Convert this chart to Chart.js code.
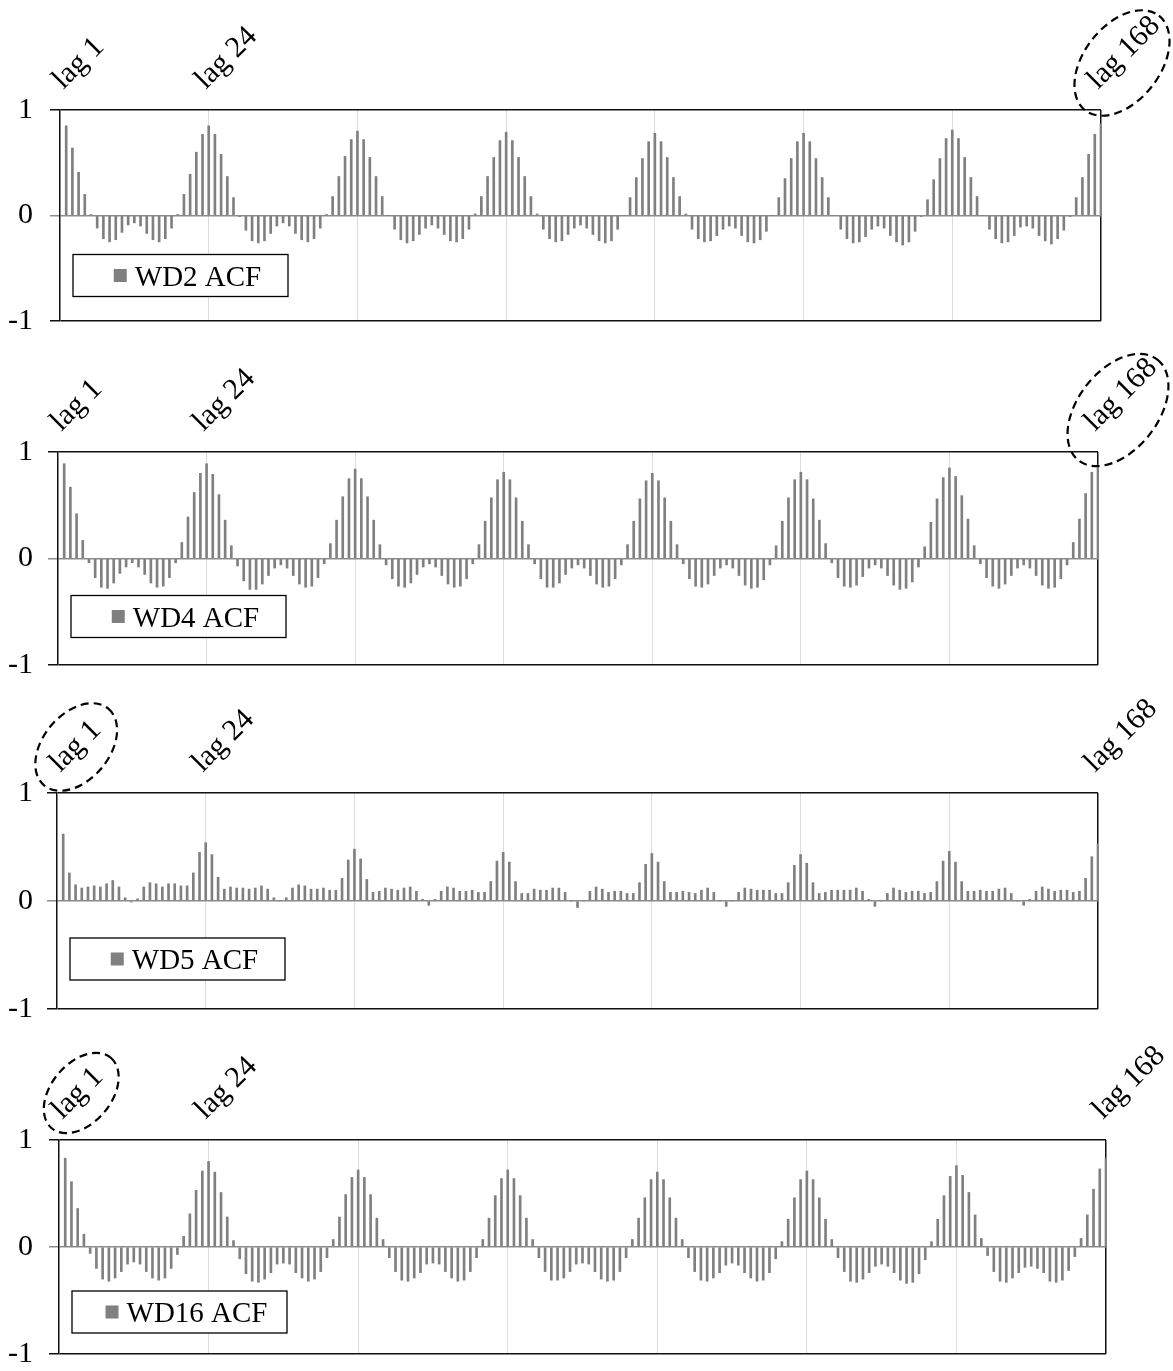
<!DOCTYPE html>
<html>
<head>
<meta charset="utf-8">
<script src="https://cdn.jsdelivr.net/npm/chart.js@4.4.1/dist/chart.umd.min.js"></script>
<style>
  html, body { margin: 0; padding: 0; background: #fff; overflow: hidden; }
  body { width: 1173px; height: 1371px; position: relative; }
  .panel { position: absolute; left: 0; width: 1173px; }
</style>
</head>
<body>
<div class="panel" id="p1"><canvas id="c1"></canvas></div>
<div class="panel" id="p2"><canvas id="c2"></canvas></div>
<div class="panel" id="p3"><canvas id="c3"></canvas></div>
<div class="panel" id="p4"><canvas id="c4"></canvas></div>
<script>
// lags 1..168 (one week of hourly lags)
const lags = [];
for (let i = 1; i <= 168; i++) lags.push(i);
const markedLags = [1, 24, 168];
const yTicks = [-1, 0, 1];
const seriesNames = ["WD2 ACF", "WD4 ACF", "WD5 ACF", "WD16 ACF"];

// ACF values, one row per day (24 lags)
const wd2Acf = [
  0.85, 0.64, 0.41, 0.20, 0.01, -0.12, -0.22, -0.25, -0.23, -0.16, -0.09, -0.07, -0.10, -0.17, -0.23, -0.25, -0.22, -0.12, 0.01, 0.20, 0.39, 0.60, 0.77, 0.85,
  0.77, 0.58, 0.37, 0.17, -0.01, -0.14, -0.24, -0.26, -0.24, -0.17, -0.10, -0.07, -0.10, -0.17, -0.23, -0.25, -0.22, -0.12, 0.01, 0.18, 0.37, 0.56, 0.72, 0.80,
  0.72, 0.55, 0.37, 0.18, 0.00, -0.13, -0.23, -0.26, -0.24, -0.18, -0.12, -0.09, -0.12, -0.18, -0.24, -0.25, -0.22, -0.13, 0.015, 0.18, 0.37, 0.55, 0.71, 0.79,
  0.71, 0.55, 0.37, 0.18, 0.015, -0.13, -0.22, -0.25, -0.24, -0.18, -0.12, -0.09, -0.12, -0.18, -0.24, -0.26, -0.24, -0.13, 0.00, 0.17, 0.36, 0.54, 0.70, 0.78,
  0.70, 0.55, 0.36, 0.18, 0.015, -0.13, -0.22, -0.25, -0.24, -0.19, -0.13, -0.10, -0.12, -0.19, -0.25, -0.26, -0.23, -0.15, 0.00, 0.17, 0.35, 0.54, 0.70, 0.78,
  0.70, 0.54, 0.36, 0.17, 0.00, -0.13, -0.22, -0.26, -0.25, -0.20, -0.13, -0.10, -0.12, -0.19, -0.25, -0.28, -0.25, -0.15, -0.01, 0.15, 0.34, 0.54, 0.73, 0.81,
  0.73, 0.55, 0.36, 0.18, 0.00, -0.13, -0.22, -0.26, -0.25, -0.19, -0.11, -0.10, -0.12, -0.19, -0.24, -0.27, -0.22, -0.14, -0.01, 0.17, 0.36, 0.58, 0.77, 0.87
];
const wd4Acf = [
  0.89, 0.67, 0.42, 0.17, -0.04, -0.18, -0.27, -0.28, -0.23, -0.14, -0.08, -0.04, -0.08, -0.15, -0.23, -0.27, -0.26, -0.18, -0.04, 0.15, 0.39, 0.62, 0.80, 0.89,
  0.79, 0.60, 0.36, 0.12, -0.07, -0.21, -0.29, -0.29, -0.24, -0.16, -0.09, -0.06, -0.09, -0.16, -0.24, -0.27, -0.26, -0.18, -0.05, 0.14, 0.36, 0.58, 0.75, 0.84,
  0.75, 0.58, 0.36, 0.13, -0.06, -0.19, -0.26, -0.27, -0.23, -0.15, -0.08, -0.05, -0.08, -0.16, -0.24, -0.27, -0.26, -0.19, -0.05, 0.13, 0.35, 0.57, 0.74, 0.81,
  0.74, 0.57, 0.35, 0.13, -0.05, -0.19, -0.27, -0.27, -0.23, -0.15, -0.09, -0.06, -0.09, -0.16, -0.24, -0.27, -0.26, -0.19, -0.06, 0.13, 0.35, 0.56, 0.73, 0.80,
  0.73, 0.57, 0.35, 0.13, -0.05, -0.19, -0.26, -0.27, -0.24, -0.16, -0.09, -0.06, -0.09, -0.16, -0.25, -0.28, -0.27, -0.20, -0.06, 0.12, 0.35, 0.57, 0.74, 0.81,
  0.74, 0.56, 0.36, 0.14, -0.04, -0.18, -0.26, -0.27, -0.25, -0.17, -0.09, -0.06, -0.09, -0.16, -0.25, -0.29, -0.28, -0.22, -0.08, 0.11, 0.34, 0.56, 0.76, 0.85,
  0.77, 0.59, 0.37, 0.12, -0.05, -0.18, -0.26, -0.28, -0.24, -0.16, -0.09, -0.06, -0.09, -0.16, -0.25, -0.28, -0.27, -0.19, -0.06, 0.15, 0.37, 0.61, 0.81, 0.88
];
const wd5Acf = [
  0.62, 0.26, 0.15, 0.12, 0.13, 0.14, 0.13, 0.16, 0.19, 0.13, 0.03, -0.01, 0.02, 0.13, 0.17, 0.16, 0.13, 0.16, 0.16, 0.14, 0.14, 0.26, 0.45, 0.54,
  0.43, 0.22, 0.11, 0.13, 0.12, 0.12, 0.11, 0.12, 0.14, 0.11, 0.03, 0.00, 0.03, 0.12, 0.15, 0.14, 0.11, 0.11, 0.12, 0.10, 0.10, 0.21, 0.38, 0.48,
  0.39, 0.20, 0.08, 0.09, 0.12, 0.11, 0.10, 0.12, 0.13, 0.09, 0.015, -0.04, 0.015, 0.09, 0.13, 0.12, 0.09, 0.09, 0.10, 0.08, 0.08, 0.18, 0.37, 0.45,
  0.36, 0.18, 0.07, 0.07, 0.11, 0.10, 0.10, 0.12, 0.12, 0.08, 0.00, -0.06, 0.00, 0.09, 0.13, 0.11, 0.08, 0.09, 0.09, 0.07, 0.07, 0.17, 0.34, 0.44,
  0.36, 0.18, 0.08, 0.08, 0.09, 0.08, 0.07, 0.10, 0.12, 0.08, 0.00, -0.05, 0.00, 0.08, 0.12, 0.11, 0.10, 0.10, 0.10, 0.07, 0.07, 0.17, 0.33, 0.43,
  0.35, 0.17, 0.07, 0.08, 0.10, 0.10, 0.10, 0.10, 0.12, 0.09, 0.015, -0.05, 0.00, 0.07, 0.12, 0.10, 0.08, 0.09, 0.09, 0.07, 0.08, 0.18, 0.37, 0.46,
  0.36, 0.18, 0.09, 0.09, 0.10, 0.09, 0.09, 0.11, 0.12, 0.07, 0.00, -0.04, 0.015, 0.09, 0.13, 0.11, 0.09, 0.10, 0.10, 0.08, 0.09, 0.21, 0.41, 0.53
];
const wd16Acf = [
  0.83, 0.61, 0.36, 0.12, -0.06, -0.20, -0.30, -0.32, -0.29, -0.23, -0.16, -0.14, -0.16, -0.23, -0.29, -0.31, -0.29, -0.20, -0.07, 0.10, 0.31, 0.53, 0.71, 0.80,
  0.70, 0.51, 0.28, 0.06, -0.11, -0.25, -0.32, -0.33, -0.30, -0.24, -0.16, -0.15, -0.16, -0.24, -0.29, -0.32, -0.30, -0.23, -0.10, 0.07, 0.28, 0.49, 0.65, 0.72,
  0.65, 0.49, 0.27, 0.07, -0.10, -0.23, -0.31, -0.32, -0.29, -0.24, -0.16, -0.15, -0.16, -0.23, -0.29, -0.32, -0.31, -0.23, -0.10, 0.07, 0.27, 0.48, 0.64, 0.72,
  0.64, 0.48, 0.27, 0.07, -0.10, -0.23, -0.31, -0.31, -0.29, -0.23, -0.16, -0.15, -0.16, -0.23, -0.30, -0.32, -0.31, -0.23, -0.10, 0.07, 0.27, 0.46, 0.63, 0.70,
  0.63, 0.46, 0.27, 0.07, -0.10, -0.23, -0.31, -0.32, -0.29, -0.24, -0.17, -0.15, -0.17, -0.24, -0.29, -0.32, -0.31, -0.24, -0.11, 0.05, 0.26, 0.46, 0.63, 0.71,
  0.63, 0.46, 0.26, 0.07, -0.10, -0.23, -0.32, -0.33, -0.30, -0.24, -0.18, -0.16, -0.18, -0.24, -0.31, -0.34, -0.33, -0.25, -0.12, 0.05, 0.26, 0.48, 0.66, 0.76,
  0.67, 0.51, 0.30, 0.08, -0.08, -0.23, -0.32, -0.33, -0.29, -0.24, -0.19, -0.18, -0.20, -0.24, -0.32, -0.33, -0.31, -0.22, -0.09, 0.08, 0.30, 0.54, 0.73, 0.83
];

const serif = '"Liberation Serif", "Times New Roman", serif';
const barGray = "#808080";

// page placement of each panel (plot box edges in page pixels)
const panels = [
  { id: "c1", box: "p1", top: 0,    plotTop: 110,  plotBottom: 326,  left: 60, right: 1101, values: wd2Acf,
    ring: { lag: 168, dx: 21, dy: -47, rx: 60, ry: 38, rot: -52 }, legendDy: 39 },
  { id: "c2", box: "p2", top: 340,  plotTop: 452,  plotBottom: 668,  left: 58, right: 1098, values: wd4Acf,
    ring: { lag: 168, dx: 20, dy: -42, rx: 64, ry: 40, rot: -52 }, legendDy: 37 },
  { id: "c3", box: "p3", top: 682,  plotTop: 793,  plotBottom: 1011, left: 57, right: 1098, values: wd5Acf,
    ring: { lag: 1, dx: 13, dy: -46, rx: 50, ry: 33, rot: -50 }, legendDy: 37 },
  { id: "c4", box: "p4", top: 1028, plotTop: 1140, plotBottom: 1358, left: 59, right: 1106, values: wd16Acf,
    ring: { lag: 1, dx: 16, dy: -47, rx: 46, ry: 30, rot: -50 }, legendDy: 44 }
];

const tickVal = c => (c && c.tick ? c.tick.value : null);

const panelDecor = {
  id: "panelDecor",
  afterDraw(chart, args, opts) {
    const { ctx, chartArea, scales } = chart;
    const xs = scales.x, ys = scales.y;
    ctx.save();

    // rotated lag labels above the plot
    ctx.font = "30px " + serif;
    ctx.fillStyle = "#000";
    ctx.textAlign = "left";
    ctx.textBaseline = "alphabetic";
    markedLags.forEach(lag => {
      const px = xs.getPixelForValue(lag);
      ctx.save();
      ctx.translate(px - 3, chartArea.top - 20);
      ctx.rotate(-Math.PI / 4);
      ctx.fillText("lag " + lag, 0, 0);
      ctx.restore();
    });

    // dashed ring round one label
    const r = opts.ring;
    ctx.save();
    ctx.setLineDash([8, 5]);
    ctx.lineWidth = 2.2;
    ctx.strokeStyle = "#000";
    ctx.beginPath();
    ctx.ellipse(xs.getPixelForValue(r.lag) + r.dx, chartArea.top + r.dy, r.rx, r.ry, r.rot * Math.PI / 180, 0, Math.PI * 2);
    ctx.stroke();
    ctx.restore();

    // legend box inside the plot
    const ds = chart.data.datasets[0];
    const bx = chartArea.left + 13, by = ys.getPixelForValue(0) + opts.legendDy;
    const bw = 215, bh = 42;
    ctx.fillStyle = "#fff";
    ctx.fillRect(bx, by, bw, bh);
    ctx.lineWidth = 1.3;
    ctx.strokeStyle = "#000";
    ctx.strokeRect(bx, by, bw, bh);
    ctx.font = "29px " + serif;
    const tw = ctx.measureText(ds.label).width;
    const sq = 13, gap = 8;
    const sx = bx + (bw - (sq + gap + tw)) / 2 + 7;
    const cy = by + bh / 2;
    ctx.fillStyle = ds.backgroundColor;
    ctx.fillRect(sx, cy - sq / 2, sq, sq);
    ctx.fillStyle = "#000";
    ctx.fillText(ds.label, sx + sq + gap, cy + 10);
    ctx.restore();
  }
};

panels.forEach((p, i) => {
  const holder = document.getElementById(p.box);
  const height = p.plotBottom + 30 - p.top;
  holder.style.top = p.top + "px";
  holder.style.height = height + "px";

  new Chart(document.getElementById(p.id), {
    type: "bar",
    data: {
      datasets: [{
        label: seriesNames[i],
        data: lags.map((lag, k) => ({ x: lag, y: p.values[k] })),
        backgroundColor: barGray,
        borderWidth: 0,
        barThickness: 2
      }]
    },
    options: {
      responsive: true,
      maintainAspectRatio: false,
      animation: false,
      events: [],
      layout: { padding: { top: p.plotTop - p.top, bottom: 30, left: 0, right: 1173 - p.right } },
      plugins: {
        legend: { display: false },
        tooltip: { enabled: false },
        panelDecor: { ring: p.ring, legendDy: p.legendDy }
      },
      scales: {
        x: {
          type: "linear",
          min: 0,
          max: 168,
          offset: false,
          ticks: { display: false, stepSize: 24 },
          grid: {
            offset: false,
            drawTicks: false,
            color: c => tickVal(c) === 168 ? "#111" : (tickVal(c) === 0 ? "rgba(0,0,0,0)" : "#dcdcdc"),
            lineWidth: c => tickVal(c) === 168 ? 1.5 : 1
          },
          border: { display: false, color: "#111" }
        },
        y: {
          min: -1,
          max: 1,
          afterBuildTicks: s => { s.ticks = yTicks.map(v => ({ value: v })); },
          afterFit: s => { s.width = p.left; },
          ticks: {
            color: "#000",
            font: { family: serif, size: 30 },
            padding: p.left - 10 - 33,
            callback: v => String(v)
          },
          grid: {
            tickLength: 10,
            color: c => tickVal(c) === 0 ? "#8c8c8c" : "#111",
            tickColor: c => tickVal(c) === 0 ? "#8c8c8c" : "#111",
            lineWidth: 1.5
          },
          border: { display: true, color: "#111", width: 1.5 }
        }
      }
    },
    plugins: [panelDecor]
  });
});
</script>
</body>
</html>
